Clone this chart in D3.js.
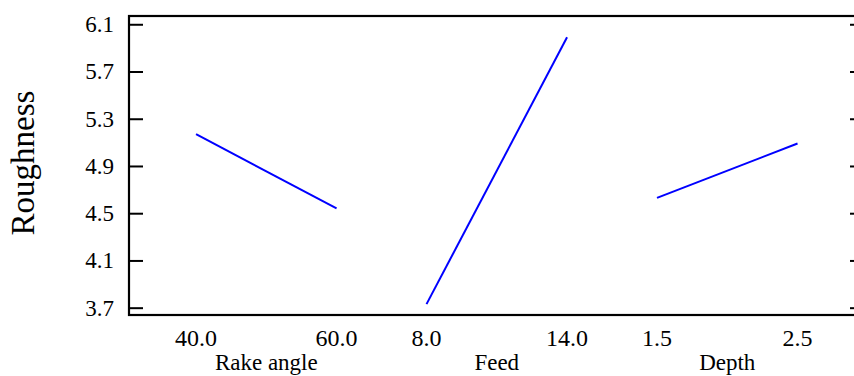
<!DOCTYPE html>
<html lang="en">
<head>
    <meta charset="UTF-8">
    <title>Main effects - Roughness</title>
    <script src="https://d3js.org/d3.v7.min.js"></script>
    <style>
        body { margin: 0; background: #fff; }
        text { font-family: "Liberation Serif", "Times New Roman", serif; fill: #000; }
    </style>
</head>
<body>
    <svg width="854" height="376"></svg>
    <script>
        // factors and their low/high levels
        const factors = ["Rake angle", "Feed", "Depth"];
        const lowLevels = ["40.0", "8.0", "1.5"];
        const highLevels = ["60.0", "14.0", "2.5"];
        // mean roughness at low and high level
        const lowMeans = [5.17, 3.73, 4.63];
        const highMeans = [4.54, 5.99, 5.09];
        const yTicks = [3.7, 4.1, 4.5, 4.9, 5.3, 5.7, 6.1];

        const svg = d3.select("svg");
        const plotL = 129, plotR = 864, plotT = 16, plotB = 315;

        const y = d3.scaleLinear().domain([3.638, 6.17]).range([plotB, plotT]);
        // slot axis: each factor is one unit wide, with gaps between
        const x = d3.scaleLinear().domain([0, 5.23]).range([plotL, plotR]);
        const slotStart = i => 0.477 + 1.64 * i;

        // frame
        svg.append("rect")
            .attr("x", plotL).attr("y", plotT)
            .attr("width", plotR - plotL).attr("height", plotB - plotT)
            .attr("fill", "none").attr("stroke", "#000").attr("stroke-width", 2.2);

        // left axis, ticks pointing inside
        const yAxis = svg.append("g")
            .attr("transform", `translate(${plotL},0)`)
            .call(d3.axisLeft(y).tickValues(yTicks).tickFormat(d3.format(".1f"))
                .tickSizeInner(-14).tickSizeOuter(0).tickPadding(15));
        yAxis.select(".domain").remove();
        yAxis.selectAll("line").attr("stroke-width", 2);
        yAxis.selectAll("text").attr("font-size", 23);

        // right axis ticks
        const yAxisR = svg.append("g")
            .attr("transform", `translate(${plotR},0)`)
            .call(d3.axisRight(y).tickValues(yTicks).tickFormat("")
                .tickSizeInner(-14).tickSizeOuter(0));
        yAxisR.select(".domain").remove();
        yAxisR.selectAll("line").attr("stroke-width", 2);

        svg.append("text")
            .attr("transform", `translate(34,163) rotate(-90)`)
            .attr("text-anchor", "middle")
            .attr("font-size", 33)
            .text("Roughness");

        const line = d3.line().x(d => d[0]).y(d => d[1]);

        factors.forEach((name, i) => {
            const u0 = slotStart(i);
            const px = [x(u0), x(u0 + 1)];
            const g = svg.append("g");

            g.append("path")
                .attr("d", line([[px[0], y(lowMeans[i])], [px[1], y(highMeans[i])]]))
                .attr("fill", "none")
                .attr("stroke", "#0000ff")
                .attr("stroke-width", 2);

            g.selectAll(".lvl")
                .data([lowLevels[i], highLevels[i]])
                .join("text")
                .attr("class", "lvl")
                .attr("x", (d, j) => px[j])
                .attr("y", 346)
                .attr("text-anchor", "middle")
                .attr("font-size", 24)
                .text(d => d);

            g.append("text")
                .attr("x", (px[0] + px[1]) / 2)
                .attr("y", 370)
                .attr("text-anchor", "middle")
                .attr("font-size", 23)
                .text(name);
        });
    </script>
</body>
</html>
